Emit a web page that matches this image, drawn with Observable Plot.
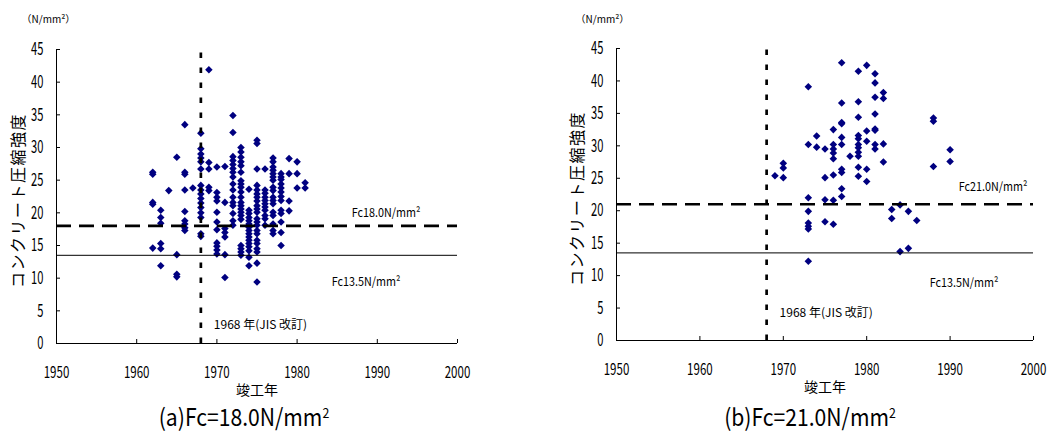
<!DOCTYPE html>
<html><head><meta charset="utf-8">
<script src="https://cdn.jsdelivr.net/npm/d3@7"></script>
<script src="https://cdn.jsdelivr.net/npm/@observablehq/plot@0.6"></script>
<style>
body{margin:0;background:#fff;width:1053px;height:436px;position:relative;overflow:hidden;
 font-family:"Noto Sans CJK JP","Noto Sans",sans-serif;}
.panel{position:absolute;top:0;}
.cap{position:absolute;top:403px;font-size:24px;line-height:26px;white-space:nowrap;transform:translateX(-50%) scaleX(0.88);color:#000;}
.cap sup{font-size:14px;vertical-align:top;position:relative;top:-4px;}
</style></head><body>
<div id="a" class="panel" style="left:0"></div>
<div id="b" class="panel" style="left:526px"></div>
<div class="cap" style="left:244px">(a)Fc=18.0N/mm<sup>2</sup></div>
<div class="cap" style="left:810px">(b)Fc=21.0N/mm<sup>2</sup></div>
<script>
// ---- data ----
const yearsA = [1962,1963,1964,1965,1966,1967,1968,1969,1970,1971,1972,1973,1974,1975,1976,1977,1978,1979,1980,1981];
const valuesA = [
  [26.2,25.9,21.6,21.3,14.6],
  [20.4,19.3,18.4,15.3,14.5,11.9],
  [23.4],
  [28.5,13.6,10.6,10.2],
  [33.5,26.2,25.9,23.5,20.2,18.8,18.3,17.7,17.3],
  [23.8],
  [32.2,29.8,29.0,28.4,27.8,26.7,24.2,23.5,22.9,22.2,21.5,20.8,20.0,19.3,16.8,16.4],
  [41.9,27.7,26.7,23.9,23.4],
  [27.0,23.1,22.4,21.8,20.1,18.6,17.4,15.4,14.9,14.3,13.7],
  [27.1,21.6,17.6,17.0,16.3,13.6,10.1],
  [34.9,32.3,28.6,28.0,27.4,26.8,26.2,25.5,24.4,23.5,22.4,21.6,21.1,19.9,18.8,18.1],
  [30.0,29.3,28.5,27.8,27.2,26.2,24.9,24.4,23.9,23.2,22.4,21.6,21.1,20.6,20.1,19.6,19.0,15.0,14.5,14.0,13.5],
  [23.6,20.4,19.9,19.3,18.8,18.3,17.8,17.3,16.8,16.3,15.8,15.3,14.8,14.2,13.2,11.9],
  [31.1,30.6,26.7,24.2,23.5,22.9,22.4,21.8,21.1,20.6,20.1,19.1,18.6,18.1,17.3,16.8,15.8,15.3,14.5,14.0,12.3,9.4],
  [26.7,23.5,23.0,22.4,21.9,21.4,20.9,20.4,19.6,19.1,18.1],
  [28.4,27.8,27.0,26.5,26.0,25.5,25.0,23.9,23.4,22.4,21.9,21.4,20.1,19.6,18.3,17.3,16.8],
  [26.0,25.5,25.1,24.4,23.8,23.2,22.5,21.9,20.4,19.9,18.6,17.0,15.0],
  [28.3,26.0,21.8,20.3],
  [27.8,26.0,23.8],
  [24.6,23.8]
];
const yearsB = [1969,1970,1973,1974,1975,1976,1977,1978,1979,1980,1981,1982,1983,1984,1985,1986,1988,1990];
const valuesB = [
  [25.4],
  [27.3,26.6,25.1],
  [39.1,30.2,22.0,19.9,18.1,17.6,17.2,12.2],
  [31.5,29.8],
  [29.5,25.1,21.7,18.3],
  [32.5,30.2,29.5,28.9,28.0,25.5,21.6,17.9],
  [42.8,36.6,33.6,33.4,31.3,30.2,26.4,25.9,23.4,22.2],
  [28.4],
  [41.5,36.8,34.4,31.6,31.1,30.2,29.7,29.0,28.4,26.7,25.3],
  [42.4,32.3,30.7,26.4,24.5],
  [41.1,39.7,37.5,34.9,32.6,32.4,30.2,29.5],
  [38.2,37.3,30.3,27.5],
  [20.2,18.8],
  [20.9,13.7],
  [19.9,14.2],
  [18.5],
  [34.3,33.8,26.8],
  [29.4,27.6]
];
const fcA = 18.0, fcB = 21.0, fcMin = 13.5, jisYear = 1968;
const xDomain = [1950, 2000];
const yDomain = [0, 45];
const xTicks = [1950, 1960, 1970, 1980, 1990, 2000];
const yTicks = [0, 5, 10, 15, 20, 25, 30, 35, 40, 45];
const yTitle = "コンクリート圧縮強度";
const xTitle = "竣工年";
const unitLabel = "（N/mm²）";

const FONT = `"Noto Sans CJK JP","Noto Sans",sans-serif`;

function flatten(years, values) {
  return years.flatMap((yr, i) => values[i].map(v => ({year: yr, v})));
}

// horizontally condense a text element around its own anchor point
function condense(t, k, size) {
  if (size) t.setAttribute("font-size", size);
  const ax = +(t.getAttribute("x") || 0);
  const tr = t.getAttribute("transform") || "";
  t.setAttribute("transform", `${tr} translate(${ax},0) scale(${k},1) translate(${-ax},0)`);
}

function panel(o) {
  const fcText = `Fc${o.fc.toFixed(1)}N/mm²`;
  const minText = `Fc${fcMin.toFixed(1)}N/mm²`;
  const svg = Plot.plot({
    width: o.width, height: 400,
    marginLeft: o.ml, marginRight: o.mr, marginTop: o.mt, marginBottom: o.mb,
    style: {background: "white", fontFamily: FONT, fontSize: "14px", color: "black"},
    x: {domain: xDomain, ticks: xTicks, tickFormat: d => String(d), tickSize: -4, tickPadding: 27, label: null},
    y: {domain: yDomain, ticks: yTicks, tickSize: -4, tickPadding: 17, label: null},
    marks: [
      Plot.dot(o.data, {x: "year", y: "v", symbol: "diamond2", r: 3.4, fill: "#000080", stroke: "none"}),
      Plot.ruleY([fcMin], {stroke: "black", strokeWidth: 1}),
      Plot.ruleY([o.fc], {stroke: "black", strokeWidth: 2.6, strokeDasharray: "15,8"}),
      Plot.ruleX([jisYear], {y1: yDomain[0], y2: yDomain[1], stroke: "black", strokeWidth: 2.7, strokeDasharray: "5.5,9.5"}),
      Plot.ruleX([xDomain[0]], {y1: yDomain[0], y2: yDomain[1], stroke: "black", strokeWidth: 1}),
      Plot.ruleY([yDomain[0]], {x1: xDomain[0], x2: xDomain[1], stroke: "black", strokeWidth: 1}),
      Plot.text([fcText], {y: () => o.fc, frameAnchor: "right", textAnchor: "end", dx: o.fcDx, dy: o.fcDy, fontSize: 12}),
      Plot.text([minText], {y: () => fcMin, frameAnchor: "right", textAnchor: "end", dx: o.minDx, dy: o.minDy, fontSize: 12}),
      Plot.text([`${jisYear} 年(JIS 改訂)`], {x: () => jisYear, y: () => yDomain[0], textAnchor: "start", dx: 13, dy: o.jisDy, fontSize: 12}),
      Plot.text([yTitle], {frameAnchor: "left", textAnchor: "middle", rotate: -90, dx: o.ytDx, dy: 4, fontSize: 16}),
      Plot.text([xTitle], {frameAnchor: "bottom", textAnchor: "middle", dy: o.xtDy, fontSize: 14}),
      Plot.text([unitLabel], {frameAnchor: "top-left", textAnchor: "start", dx: o.uDx, dy: o.uDy, fontSize: 10})
    ]
  });
  // styling tweaks: condensed, tall tick digits as in the reference
  svg.querySelectorAll('g[aria-label="x-axis tick label"] text').forEach(t => condense(t, 0.72, 16));
  svg.querySelectorAll('g[aria-label="y-axis tick label"] text').forEach(t => condense(t, 0.62, 18));
  svg.querySelectorAll("text").forEach(t => {
    const s = t.textContent;
    if (s === fcText || s === minText) condense(t, 0.9);
    if (s === yTitle) t.style.letterSpacing = "1.5px";
  });
  return svg;
}

document.getElementById("a").append(panel({
  data: flatten(yearsA, valuesA), fc: fcA,
  width: 526, ml: 56, mr: 69, mt: 49, mb: 57,
  fcDx: -37, fcDy: -13, minDx: -57, minDy: 27, jisDy: -18,
  ytDx: -38, xtDy: 51, uDx: -35, uDy: -34
}));
document.getElementById("b").append(panel({
  data: flatten(yearsB, valuesB), fc: fcB,
  width: 527, ml: 90, mr: 20, mt: 48, mb: 60,
  fcDx: -6, fcDy: -17, minDx: -35, minDy: 30, jisDy: -27,
  ytDx: -39, xtDy: 51, uDx: -41, uDy: -33
}));
</script>
</body></html>
